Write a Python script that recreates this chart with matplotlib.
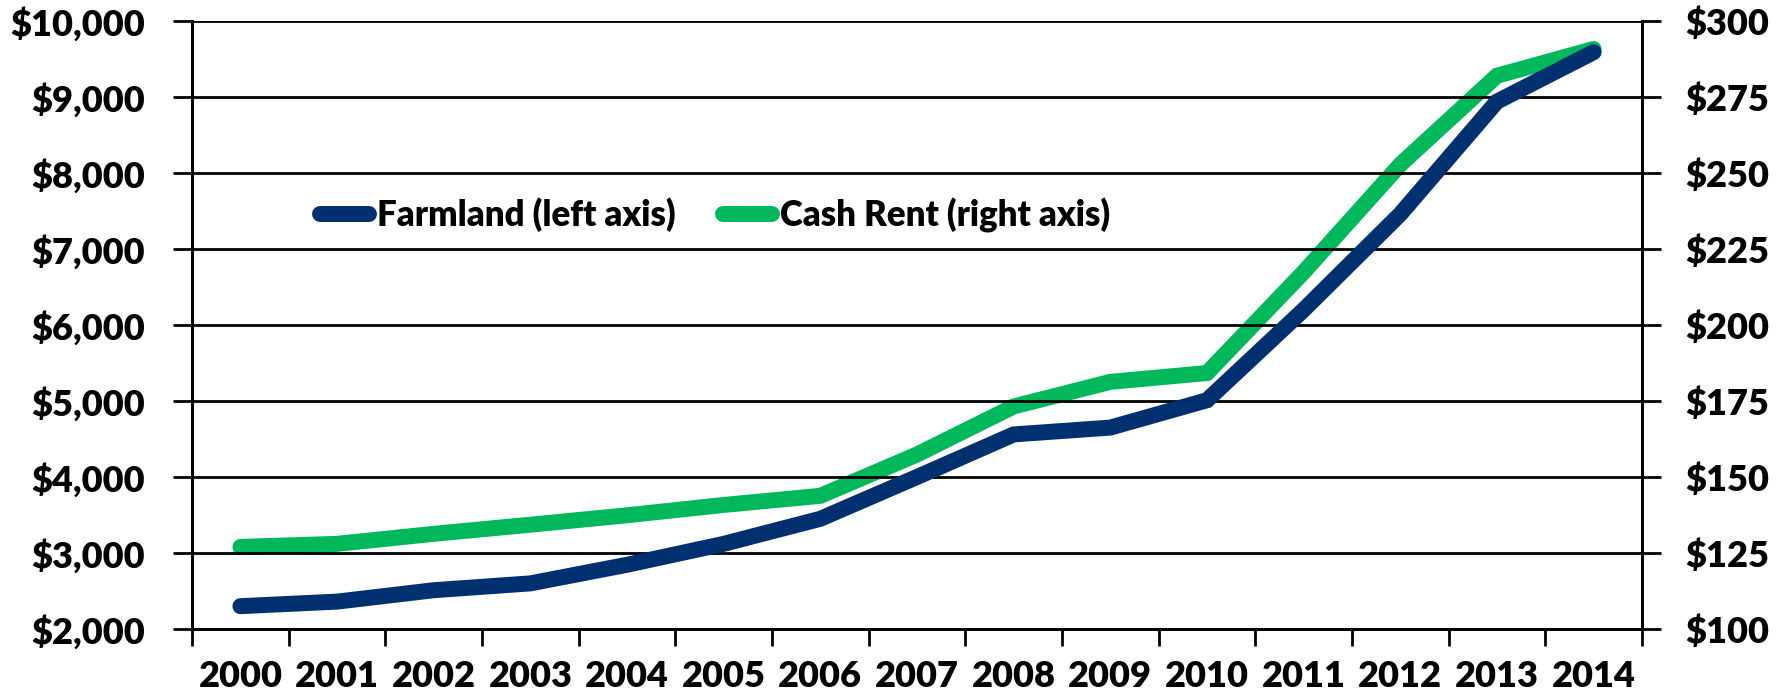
import numpy as np
import matplotlib.pyplot as plt
from matplotlib.ticker import FuncFormatter, MultipleLocator

years = ['2000', '2001', '2002', '2003', '2004', '2005', '2006', '2007',
         '2008', '2009', '2010', '2011', '2012', '2013', '2014']
# farmland value per acre (left axis)
farmland = [2300, 2360, 2510, 2600, 2845, 3120, 3450, 4000,
            4560, 4650, 5010, 6200, 7460, 8940, 9590]
# cash rent per acre (right axis)
cash_rent = [127, 128, 131.3, 134.3, 137.4, 140.8, 143.8, 157.4,
             173.2, 181.3, 184.2, 217.4, 252.8, 282, 290.8]

plt.rcParams['font.family'] = ['Lato', 'DejaVu Sans']
plt.rcParams['font.weight'] = 'heavy'

navy = '#00306F'
green = '#00B85C'

fig = plt.figure(figsize=(17.9, 6.96), dpi=100)
ax = fig.add_axes([0.1073, 0.0963, 0.81, 0.8735])
ax2 = ax.twinx()

x = np.arange(len(years))
l1, = ax.plot(x, farmland, color=navy, lw=11.5, solid_capstyle='round',
              solid_joinstyle='miter', label='Farmland (left axis)', zorder=3)
l2, = ax2.plot(x, cash_rent, color=green, lw=11.5, solid_capstyle='round',
               solid_joinstyle='miter', label='Cash Rent (right axis)', zorder=3)
# keep the navy line drawn above the green one
ax.set_zorder(ax2.get_zorder() + 1)
ax.patch.set_visible(False)

ax.set_xlim(-0.5, 14.5)
ax.set_ylim(2000, 10000)
ax2.set_ylim(100, 300)
ax.yaxis.set_major_locator(MultipleLocator(1000))
ax2.yaxis.set_major_locator(MultipleLocator(25))
ax.yaxis.set_major_formatter(FuncFormatter(lambda v, p: '${:,.0f}'.format(v)))
ax2.yaxis.set_major_formatter(FuncFormatter(lambda v, p: '${:,.0f}'.format(v)))

ax.set_xticks(x)
ax.set_xticklabels(years)
ax.set_xticks(np.arange(-0.5, 15, 1), minor=True)
ax.tick_params(axis='x', which='major', length=0, pad=22, labelsize=26)
ax.tick_params(axis='x', which='minor', length=12, width=2, direction='out')
ax.tick_params(axis='y', length=14, width=2, pad=20, labelsize=26)
ax2.tick_params(axis='y', length=14, width=2, pad=17, labelsize=26)

ax.grid(axis='y', color='black', lw=2)
ax.set_axisbelow(True)
for a in (ax, ax2):
    a.spines['top'].set_visible(False)
    for s in ('left', 'right', 'bottom'):
        a.spines[s].set_linewidth(2)

ax.legend([l1, l2], [l1.get_label(), l2.get_label()], ncol=2, frameon=False,
          loc='center left', bbox_to_anchor=(0.088, 0.681), fontsize=25,
          handlelength=1.41, handletextpad=0.23, columnspacing=1.38,
          borderaxespad=0, borderpad=0)

fig.savefig('out.png', dpi=100)
